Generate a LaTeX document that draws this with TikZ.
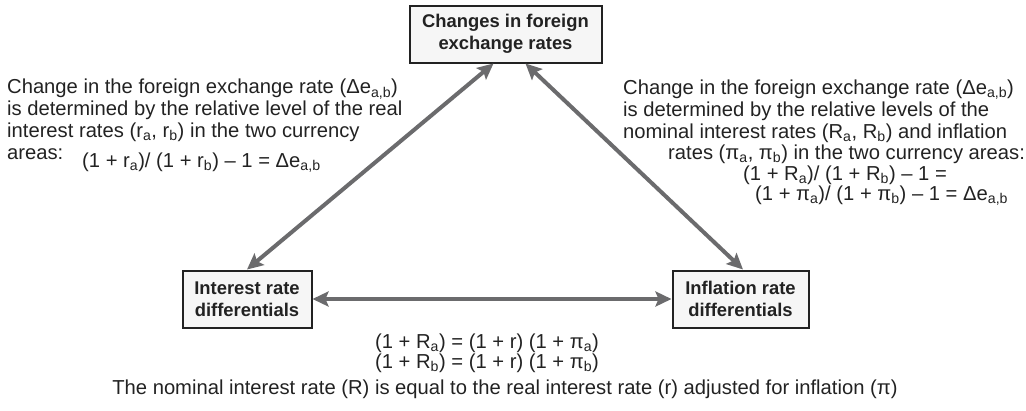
\documentclass[tikz,border=0pt]{standalone}
\usepackage{fontspec}
\setmainfont{Liberation Sans}
\usetikzlibrary{arrows.meta,calc}
\definecolor{inkc}{HTML}{222222}
\definecolor{boxfill}{HTML}{F6F6F6}
\definecolor{arrowgray}{HTML}{6B6B6D}
\newcommand{\bodyfnt}{\fontsize{20.2}{21.7}\selectfont}
\newcommand{\boxfnt}{\fontsize{18.4}{22}\selectfont\bfseries}
\tikzset{
  box/.style={draw=inkc, line width=2pt, fill=boxfill, align=center, inner sep=0pt, font=\boxfnt, text=inkc},
  arr/.style={draw=arrowgray, line width=4pt, {Stealth[length=16pt,width=15pt,inset=3pt]}-{Stealth[length=16pt,width=15pt,inset=3pt]}},
  txt/.style={inner sep=0pt, align=left, font=\bodyfnt, text=inkc}
}
\begin{document}
\begin{tikzpicture}[x=1pt,y=-1pt]
\useasboundingbox (0,0) rectangle (1026,410);
% boxes
\node[box, minimum width=192pt, minimum height=57pt] (top) at (505.5,34) {Changes in foreign\\exchange rates};
\node[box, minimum width=129pt, minimum height=57pt] (bl) at (247,299) {Interest rate\\differentials};
\node[box, minimum width=136pt, minimum height=57pt] (br) at (740.5,299) {Inflation rate\\differentials};
% arrows
\draw[arr] (bl.north) -- ([xshift=-12pt]top.south);
\draw[arr] ([xshift=20pt]top.south) -- ([xshift=2.5pt]br.north);
\draw[arr] (bl.east) -- (br.west);
% left text (base anchor = baseline of last line)
\node[txt, anchor=base west] (lt) at (7,159) {Change in the foreign exchange rate (Δe\textsubscript{a,b})\\
is determined by the relative level of the real\\
interest rates (r\textsubscript{a}, r\textsubscript{b}) in the two currency\\
areas:};
\node[txt, anchor=base west] (leq) at (82,167) {(1 + r\textsubscript{a})/ (1 + r\textsubscript{b}) – 1 = Δe\textsubscript{a,b}};
% right text
\node[txt, anchor=base west] (rt) at (623,138) {Change in the foreign exchange rate (Δe\textsubscript{a,b})\\
is determined by the relative levels of the\\
nominal interest rates (R\textsubscript{a}, R\textsubscript{b}) and inflation};
\node[txt, anchor=base west] (rt2) at (668,159) {rates (π\textsubscript{a}, π\textsubscript{b}) in the two currency areas:};
\node[txt, anchor=base west] (req1) at (743,180) {(1 + R\textsubscript{a})/ (1 + R\textsubscript{b}) – 1 =};
\node[txt, anchor=base west] (req2) at (755,200) {(1 + π\textsubscript{a})/ (1 + π\textsubscript{b}) – 1 = Δe\textsubscript{a,b}};
% bottom text
\node[txt, anchor=base] (beq1) at (487,348) {(1 + R\textsubscript{a}) = (1 + r) (1 + π\textsubscript{a})};
\node[txt, anchor=base] (beq2) at (487,368) {(1 + R\textsubscript{b}) = (1 + r) (1 + π\textsubscript{b})};
\node[txt, anchor=base] (bnote) at (505,394) {The nominal interest rate (R) is equal to the real interest rate (r) adjusted for inflation (π)};
\end{tikzpicture}
\end{document}
